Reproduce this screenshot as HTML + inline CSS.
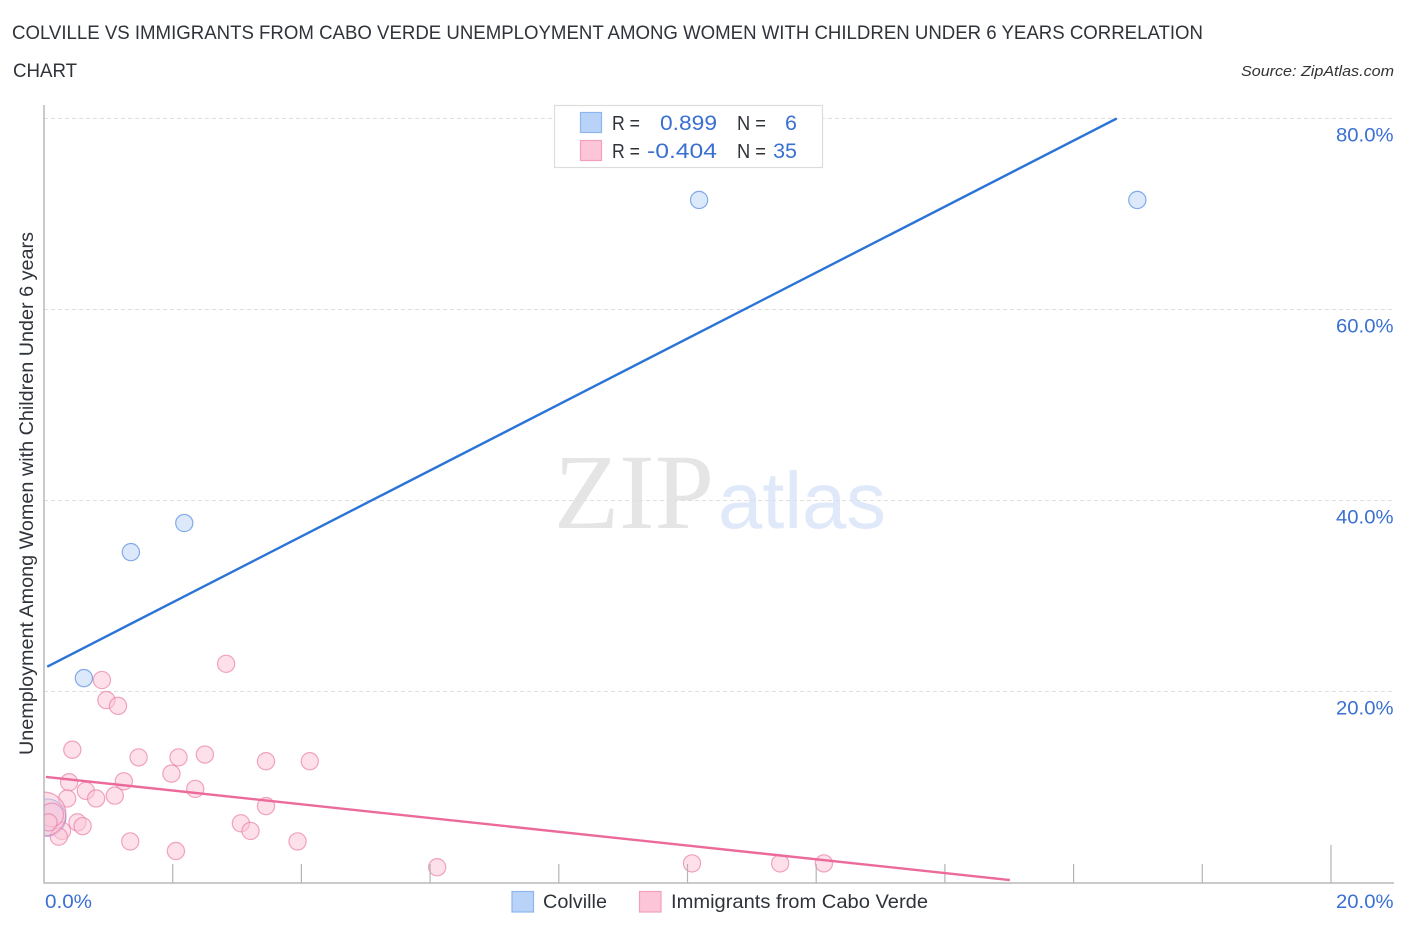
<!DOCTYPE html>
<html lang="en">
<head>
<meta charset="utf-8">
<title>Colville vs Immigrants from Cabo Verde Unemployment Correlation Chart</title>
<style>
html,body{margin:0;padding:0;background:#fff;width:1406px;height:930px;overflow:hidden}
svg{display:block}
text{font-family:"Liberation Sans",sans-serif}
</style>
</head>
<body>
<svg id="chart" xmlns="http://www.w3.org/2000/svg" width="1406" height="930" viewBox="0 0 1406 930">
  <text x="554" y="528" font-size="107" fill="#e5e5e5" textLength="160" lengthAdjust="spacingAndGlyphs" style="font-family:'Liberation Serif',serif">ZIP</text>
  <text x="718" y="528" font-size="80" fill="#dfe9f9" textLength="168" lengthAdjust="spacingAndGlyphs">atlas</text>
  <g id="grid"></g>
  <g id="points"></g>
  <rect x="0" y="90" width="44" height="793" fill="#fff"/>
  <g id="axes"></g>
  <g id="trends"></g>
  <g id="labels"></g>

  <text x="12" y="39" font-size="19.5" fill="#2f333a" textLength="1191" lengthAdjust="spacingAndGlyphs">COLVILLE VS IMMIGRANTS FROM CABO VERDE UNEMPLOYMENT AMONG WOMEN WITH CHILDREN UNDER 6 YEARS CORRELATION</text>
  <text x="13" y="77" font-size="19.5" fill="#2f333a" textLength="64" lengthAdjust="spacingAndGlyphs">CHART</text>
  <text x="1241" y="76" font-size="15" font-style="italic" fill="#333" textLength="153" lengthAdjust="spacingAndGlyphs">Source: ZipAtlas.com</text>
  <text transform="translate(33,755) rotate(-90)" x="0" y="0" font-size="19" fill="#2f333a" textLength="523" lengthAdjust="spacingAndGlyphs">Unemployment Among Women with Children Under 6 years</text>

  <g>
    <rect x="554.5" y="105.5" width="268" height="62" fill="#fff" stroke="#dcdcdc" stroke-width="1.2"/>
    <rect x="580.5" y="112.5" width="21" height="20" fill="#b9d3f8" stroke="#8db5ee" stroke-width="1.2"/>
    <rect x="580.5" y="140.5" width="21" height="20" fill="#fcc6d8" stroke="#f2a0bc" stroke-width="1.2"/>
    <text x="612" y="130" font-size="20" fill="#2f333a" textLength="28" lengthAdjust="spacingAndGlyphs">R =</text>
    <text x="660" y="130" font-size="21.5" fill="#3a70d2" textLength="57" lengthAdjust="spacingAndGlyphs">0.899</text>
    <text x="737" y="130" font-size="20" fill="#2f333a" textLength="29" lengthAdjust="spacingAndGlyphs">N =</text>
    <text x="797" y="130" font-size="21.5" fill="#3a70d2" text-anchor="end">6</text>
    <text x="612" y="158" font-size="20" fill="#2f333a" textLength="28" lengthAdjust="spacingAndGlyphs">R =</text>
    <text x="647" y="158" font-size="21.5" fill="#3a70d2" textLength="70" lengthAdjust="spacingAndGlyphs">-0.404</text>
    <text x="737" y="158" font-size="20" fill="#2f333a" textLength="29" lengthAdjust="spacingAndGlyphs">N =</text>
    <text x="797" y="158" font-size="21.5" fill="#3a70d2" text-anchor="end">35</text>
  </g>

  <g>
    <rect x="512" y="891.5" width="21.5" height="20.5" fill="#b9d3f8" stroke="#8db5ee" stroke-width="1.2"/>
    <text x="543" y="908" font-size="19.5" fill="#2f333a" textLength="64" lengthAdjust="spacingAndGlyphs">Colville</text>
    <rect x="639.5" y="891.5" width="21.5" height="20.5" fill="#fcc6d8" stroke="#f2a0bc" stroke-width="1.2"/>
    <text x="671" y="908" font-size="19.5" fill="#2f333a" textLength="257" lengthAdjust="spacingAndGlyphs">Immigrants from Cabo Verde</text>
  </g>
</svg>
<script>
const yTickValues = [0, 20, 40, 60, 80];
const yTickLabels = ['', '20.0%', '40.0%', '60.0%', '80.0%'];
const xTickValues = [2, 4, 6, 8, 10, 12, 14, 16, 18, 20];
const xEndValues = [0, 20];
const xEndLabels = ['0.0%', '20.0%'];

const colvilleX = [10.18, 16.99, 2.18, 1.35, 0.62, 0.05];
const colvilleY = [71.47, 71.47, 37.64, 34.6, 21.4, 6.8];
const colvilleWeight = [1, 1, 1, 1, 1, 4.68];

const caboVerdeX = [0.9, 2.83, 0.97, 1.15, 0.44, 1.47, 2.09, 2.5, 3.45, 4.13, 1.98, 0.39, 1.24, 0.65, 2.35, 0.36, 0.81, 1.1, 3.45, 0.52, 0.6, 3.06, 3.21, 0.28, 0.23, 1.34, 3.94, 2.05, 6.11, 10.07, 11.44, 12.12, 0, 0.12, 0.07];
const caboVerdeY = [21.2, 22.9, 19.1, 18.5, 13.9, 13.1, 13.1, 13.4, 12.7, 12.7, 11.4, 10.5, 10.6, 9.6, 9.8, 8.8, 8.8, 9.1, 8.0, 6.3, 5.9, 6.2, 5.4, 5.4, 4.8, 4.3, 4.3, 3.3, 1.6, 2.0, 2.0, 2.0, 7.17, 7.07, 6.3];
const caboVerdeWeight = [1, 1, 1, 1, 1, 1, 1, 1, 1, 1, 1, 1, 1, 1, 1, 1, 1, 1, 1, 1, 1, 1, 1, 1, 1, 1, 1, 1, 1, 1, 1, 1, 6.5, 1.9, 1];

const colvilleTrendX = [0.05, 16.67];
const colvilleTrendY = [22.6, 80];
const caboVerdeTrendX = [0.03, 15.01];
const caboVerdeTrendY = [11.05, 0.26];

const NS = 'http://www.w3.org/2000/svg';
function xScale(v) { return 44 + v * 64.35; }
function yScale(v) { return 882.5 - v * 9.55; }
function make(tag, attrs, parent) {
  const el = document.createElementNS(NS, tag);
  for (const k in attrs) el.setAttribute(k, attrs[k]);
  parent.appendChild(el);
  return el;
}
const gridG = document.getElementById('grid');
const axesG = document.getElementById('axes');
const pointsG = document.getElementById('points');
const trendsG = document.getElementById('trends');
const labelsG = document.getElementById('labels');

yTickValues.forEach(function (v, i) {
  if (v > 0) {
    const g = make('line', {x1: 44, x2: 1394, y1: yScale(v), y2: yScale(v), stroke: '#dfdfdf', 'stroke-width': 1, 'stroke-dasharray': '4 3'}, gridG);
    
    
    const t = make('text', {x: 1393.5, y: yScale(v) + 23, 'font-size': 19.5, fill: '#3a70d2', 'text-anchor': 'end', textLength: 57.5, lengthAdjust: 'spacingAndGlyphs'}, labelsG);
    t.textContent = yTickLabels[i];
    
    
  }
});

const yAxis = make('line', {x1: 44, x2: 44, y1: 105, y2: 883.5, stroke: '#adadad', 'stroke-width': 1.3}, axesG);


const xAxis = make('line', {x1: 43.5, x2: 1394, y1: 883, y2: 883, stroke: '#b8b8b8', 'stroke-width': 1.5}, axesG);



xTickValues.forEach(function (v) {
  const top = v === 20 ? 845 : 864;
  const t = make('line', {x1: xScale(v), x2: xScale(v), y1: top, y2: 883, stroke: '#b4b4b4', 'stroke-width': 1.2}, axesG);
  
  
});

xEndValues.forEach(function (v, i) {
  const t = make('text', {x: v === 0 ? xScale(v) + 1 : xScale(v) + 62.5, y: 908, 'font-size': 19.5, fill: '#3a70d2', 'text-anchor': v === 0 ? 'start' : 'end', textLength: v === 0 ? 47 : 57.5, lengthAdjust: 'spacingAndGlyphs'}, labelsG);
  t.textContent = xEndLabels[i];
  
  
});

function radius(w) { return 8.6 * Math.sqrt(w); }

colvilleX.forEach(function (v, i) {
  const c = make('circle', {cx: xScale(v), cy: yScale(colvilleY[i]), r: radius(colvilleWeight[i]), fill: '#b9d3f8', 'fill-opacity': 0.5, stroke: '#6f9de6', 'stroke-opacity': 0.85, 'stroke-width': 1.2}, pointsG);
  
  
});

caboVerdeX.forEach(function (v, i) {
  const c = make('circle', {cx: xScale(v), cy: yScale(caboVerdeY[i]), r: radius(caboVerdeWeight[i]), fill: '#fcc6d8', 'fill-opacity': 0.55, stroke: '#ea80a6', 'stroke-opacity': 0.7, 'stroke-width': 1.2}, pointsG);
  
  
});

const blueLine = make('line', {x1: xScale(colvilleTrendX[0]), y1: yScale(colvilleTrendY[0]), x2: xScale(colvilleTrendX[1]), y2: yScale(colvilleTrendY[1]), stroke: '#2a74d8', 'stroke-width': 2.4}, trendsG);


const pinkLine = make('line', {x1: xScale(caboVerdeTrendX[0]), y1: yScale(caboVerdeTrendY[0]), x2: xScale(caboVerdeTrendX[1]), y2: yScale(caboVerdeTrendY[1]), stroke: '#ec6a9a', 'stroke-width': 2.4}, trendsG);


</script>
</body>
</html>
